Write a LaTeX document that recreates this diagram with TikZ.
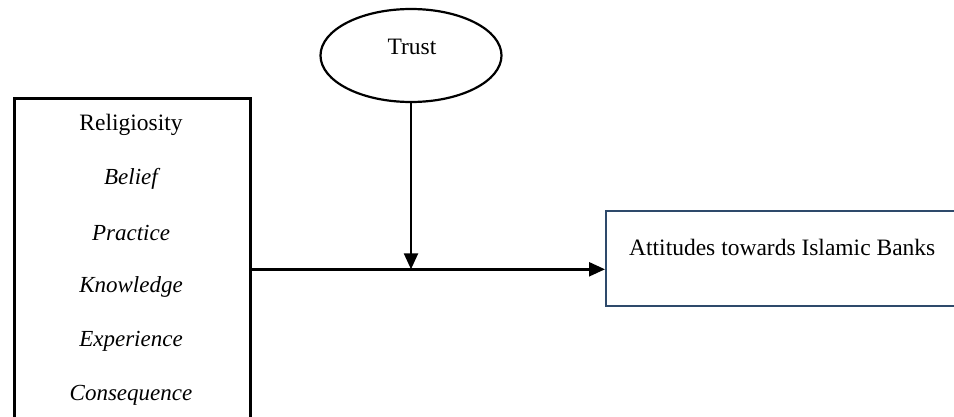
\documentclass[tikz,border=0pt]{standalone}
\usepackage{fontspec}
\setmainfont{Liberation Serif}
\usetikzlibrary{shapes.geometric,arrows.meta}
\definecolor{boxblue}{HTML}{2E4A6B}
\tikzset{
  conn/.style={line width=2.4pt,-{Triangle[length=16pt,width=14pt]}},
  label/.style={font=\fontsize{23.5}{26}\selectfont,inner sep=0pt},
  dim/.style={font=\fontsize{23}{26}\selectfont\itshape,inner sep=0pt}
}
\begin{document}
\begin{tikzpicture}[x=1pt,y=-1pt]
\useasboundingbox (0,0) rectangle (954,417);
\clip (0,0) rectangle (954,417);
\fill[white] (0,0) rectangle (954,417);
% left box
\node[draw,line width=2.6pt,minimum width=236pt,minimum height=342pt,inner sep=0pt,anchor=north west] (rel) at (13,97) {};
\node[label] (relt) at (131,125) {Religiosity};
\node[dim] (d1) at (131,179) {Belief};
\node[dim] (d2) at (131,233) {Practice};
\node[dim] (d3) at (131,287) {Knowledge};
\node[dim] (d4) at (131,341) {Experience};
\node[dim] (d5) at (131,395) {Consequence};
% trust ellipse
\node[draw,ellipse,line width=2.2pt,minimum width=181pt,minimum height=93pt,inner sep=0pt] (trust) at (411,55.5) {};
\node[label] (trustt) at (412,47) {Trust};
% right box
\node[draw=boxblue,line width=2.4pt,minimum width=370pt,minimum height=95pt,inner sep=0pt,anchor=north west] (att) at (605,210) {};
\node[label,anchor=west] (attt) at (629,247) {Attitudes towards Islamic Banks};
% connectors
\coordinate (meet) at (trust.south |- rel.east);
\draw[conn] (rel.east) -- (rel.east -| att.west);
\draw[conn] (trust.south) -- (meet);
\end{tikzpicture}
\end{document}
